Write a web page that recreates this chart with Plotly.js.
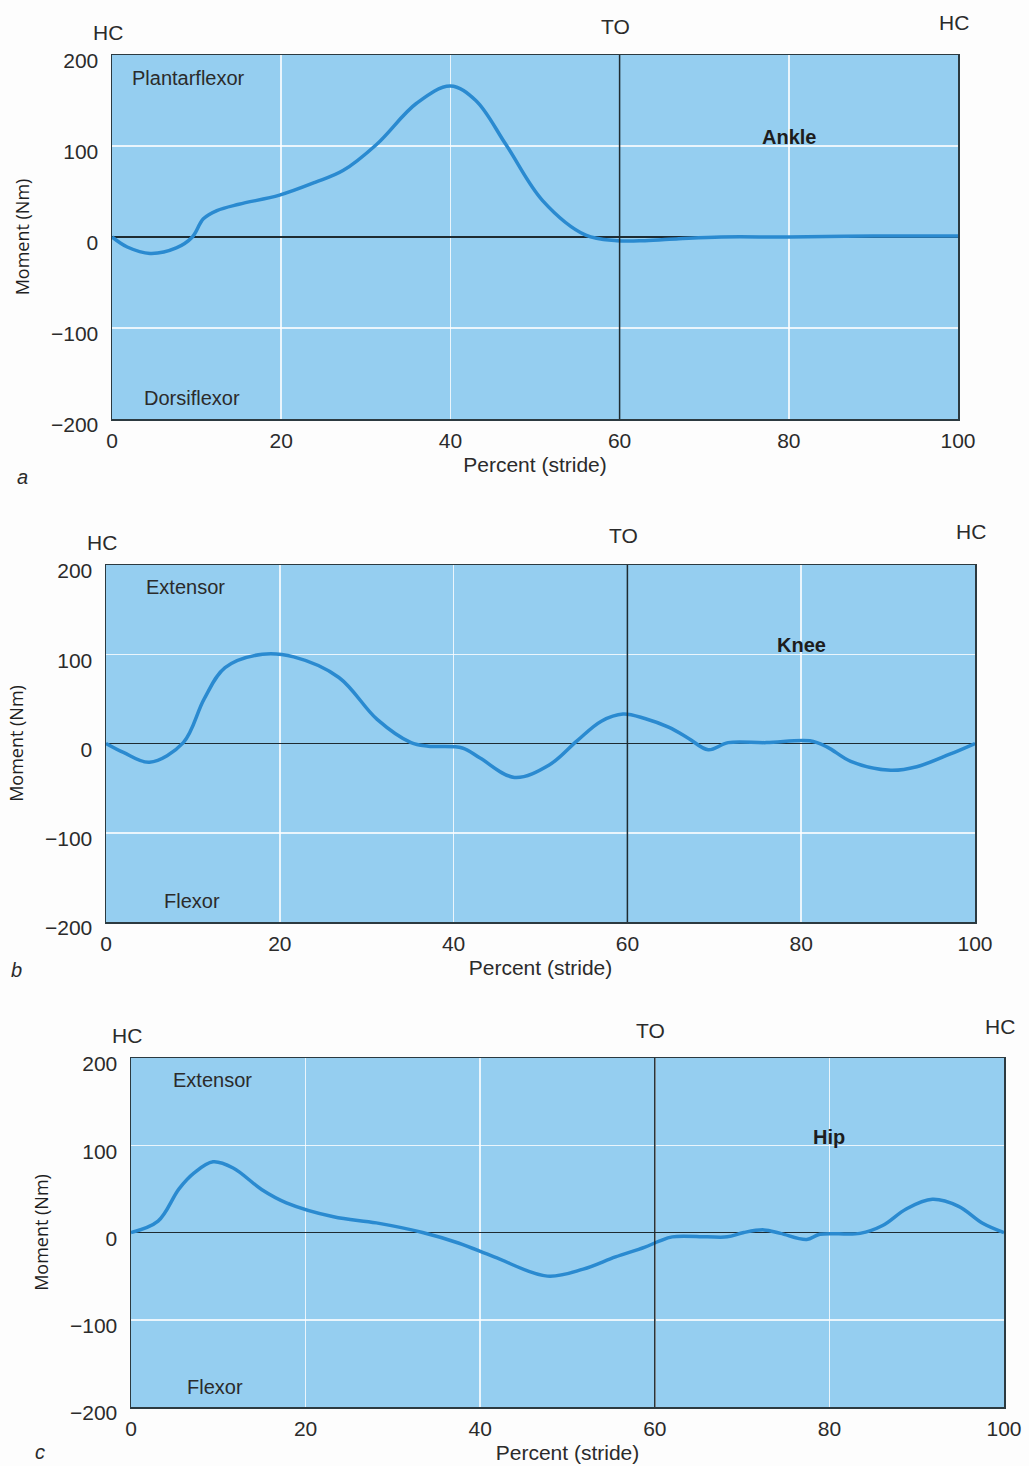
<!DOCTYPE html>
<html>
<head>
<meta charset="utf-8">
<script src="https://cdn.plot.ly/plotly-3.0.1.min.js"></script>
<style>html,body{margin:0;padding:0;background:#fdfdfd;}#chart{width:1029px;height:1466px;}</style>
</head>
<body>
<div id="chart"></div>
<script>
// ---- data ----
var ankleX = [0, 1.8, 4.5, 7.6, 9.5, 10.8, 12.4, 15, 19.8, 24, 27.3, 31.3, 36, 40, 43, 46.6, 50.9, 56, 59.7, 63, 67, 72, 80, 90, 100];
var ankleM = [0, -11, -18, -12, 0, 20, 29, 36, 46, 60, 73, 102, 147, 166, 150, 101, 40, 2, -4, -4, -2, 0, 0, 1, 1];

var kneeX = [0, 2, 5, 8.9, 11.3, 13.7, 18, 21.6, 26.8, 31.2, 35.1, 37.1, 41, 43, 47, 51, 54.2, 57, 59.5, 62, 64.8, 67, 69.3, 71.6, 76, 81, 83, 85.7, 90.3, 93.3, 97.1, 100];
var kneeM = [0, -10, -21, 1, 50, 85, 100, 97, 74, 27, 1, -3, -5, -16, -38, -24, 3, 25, 33, 28, 18, 6, -7, 1, 1, 3, -4, -20, -30, -26, -12, 0];

var hipX = [0, 3.1, 5.5, 7.2, 9.4, 11.7, 15, 17.8, 23.2, 28.1, 33.4, 37.5, 41.6, 47.7, 51.8, 55.5, 58.8, 60.5, 62, 66, 68.3, 70.2, 72.5, 74.4, 77.4, 78.9, 83.5, 86.1, 88.8, 91.8, 94.8, 97.5, 100];
var hipM = [0, 13, 50, 68, 81, 74, 49, 34, 18, 11, 0, -12, -28, -50, -42, -28, -17, -10, -5, -5, -5, 0, 3, -1, -8, -2, -1, 8, 27, 38, 30, 11, 0];

var xTicks = [0, 20, 40, 60, 80, 100];
var yTicks = [-200, -100, 0, 100, 200];
var toeOffPct = 60;
var panelNames = ['Ankle', 'Knee', 'Hip'];
var posLabels = ['Plantarflexor', 'Extensor', 'Extensor'];
var negLabels = ['Dorsiflexor', 'Flexor', 'Flexor'];
var panelLetters = ['a', 'b', 'c'];

// ---- layout geometry (pixels) ----
var W = 1029, H = 1466;
var boxes = [
  {l: 112, r: 958, t: 55, b: 419},
  {l: 106, r: 975, t: 565, b: 922},
  {l: 131, r: 1004, t: 1058, b: 1407}
];
var hcShift = [[23, 29, 33], [23, 30, 34], [23, 28, 32]];
var posLabelX = [2.1, 4.4, 4.6];
var negLabelX = [3.6, 6.4, 6.2];
var letterPos = [[22, 477], [16, 970], [40, 1452]];

var FONT = 'Liberation Sans, Arial, Helvetica, sans-serif';
var TXT = '#2b2b2b';
var curveColor = '#2a8ad0';

var xs = [ankleX, kneeX, hipX];
var ys = [ankleM, kneeM, hipM];

var traces = [];
var layout = {
  width: W, height: H,
  margin: {l: 0, r: 0, t: 0, b: 0},
  paper_bgcolor: '#fdfdfd',
  plot_bgcolor: '#95cef0',
  showlegend: false,
  annotations: [],
  shapes: []
};

for (var i = 0; i < 3; i++) {
  var sfx = i === 0 ? '' : String(i + 1);
  var bx = boxes[i];
  traces.push({
    x: xs[i], y: ys[i], type: 'scatter', mode: 'lines',
    line: {color: curveColor, width: 3.5, shape: 'spline', smoothing: 1},
    xaxis: 'x' + sfx, yaxis: 'y' + sfx, hoverinfo: 'x+y'
  });
  layout['xaxis' + sfx] = {
    domain: [bx.l / W, bx.r / W],
    anchor: 'y' + sfx,
    range: [0, 100],
    tickvals: xTicks,
    showgrid: true, gridcolor: 'rgba(255,255,255,0.8)', gridwidth: 1.5,
    zeroline: false,
    showline: true, mirror: true, linecolor: '#2c3a40', linewidth: 1.5,
    ticks: '', ticklabelstandoff: 2,
    tickfont: {family: FONT, size: 21, color: TXT},
    title: {text: 'Percent (stride)', font: {family: FONT, size: 21, color: TXT}, standoff: 6},
    fixedrange: true
  };
  layout['yaxis' + sfx] = {
    domain: [1 - bx.b / H, 1 - bx.t / H],
    anchor: 'x' + sfx,
    range: [-200, 200],
    tickvals: yTicks,
    showgrid: true, gridcolor: 'rgba(255,255,255,0.8)', gridwidth: 1.5,
    zeroline: true, zerolinecolor: '#1e2b31', zerolinewidth: 1.5,
    showline: true, mirror: true, linecolor: '#2c3a40', linewidth: 1.5,
    ticks: '', ticklabelstandoff: 8, ticklabelshift: 6,
    tickfont: {family: FONT, size: 21, color: TXT},
    title: {text: 'Moment (Nm)', font: {family: 'Open Sans, DejaVu Sans, sans-serif', size: 18, color: '#1f1f1f'}, standoff: 16},
    fixedrange: true
  };
  // toe-off vertical line
  layout.shapes.push({
    type: 'line', xref: 'x' + sfx, yref: 'y' + sfx + ' domain',
    x0: toeOffPct, x1: toeOffPct, y0: 0, y1: 1,
    line: {color: '#1e2b31', width: 1.5}, layer: 'above'
  });
  // HC / TO / HC
  var events = [[0, 'HC'], [toeOffPct, 'TO'], [100, 'HC']];
  for (var k = 0; k < 3; k++) {
    layout.annotations.push({
      xref: 'x' + sfx, yref: 'y' + sfx + ' domain',
      x: events[k][0], y: 1, xanchor: 'center', yanchor: 'middle',
      xshift: -4, yshift: hcShift[i][k],
      text: events[k][1], showarrow: false,
      font: {family: FONT, size: 21, color: TXT}
    });
  }
  // direction labels
  layout.annotations.push({
    xref: 'x' + sfx, yref: 'y' + sfx, x: posLabelX[i], y: 175,
    xanchor: 'left', yanchor: 'middle', text: posLabels[i], showarrow: false,
    font: {family: FONT, size: 20, color: TXT}
  });
  layout.annotations.push({
    xref: 'x' + sfx, yref: 'y' + sfx, x: negLabelX[i], y: -177,
    xanchor: 'left', yanchor: 'middle', text: negLabels[i], showarrow: false,
    font: {family: FONT, size: 20, color: TXT}
  });
  // joint name
  layout.annotations.push({
    xref: 'x' + sfx, yref: 'y' + sfx, x: 80, y: 110,
    xanchor: 'center', yanchor: 'middle', text: '<b>' + panelNames[i] + '</b>', showarrow: false,
    font: {family: FONT, size: 20, color: '#1d1d1d'}
  });
  // panel letter
  layout.annotations.push({
    xref: 'paper', yref: 'paper', x: letterPos[i][0] / W, y: 1 - letterPos[i][1] / H,
    xanchor: 'center', yanchor: 'middle', text: '<i>' + panelLetters[i] + '</i>', showarrow: false,
    font: {family: FONT, size: 20, color: TXT}
  });
}

Plotly.newPlot('chart', traces, layout, {displayModeBar: false, staticPlot: true});
</script>
</body>
</html>
